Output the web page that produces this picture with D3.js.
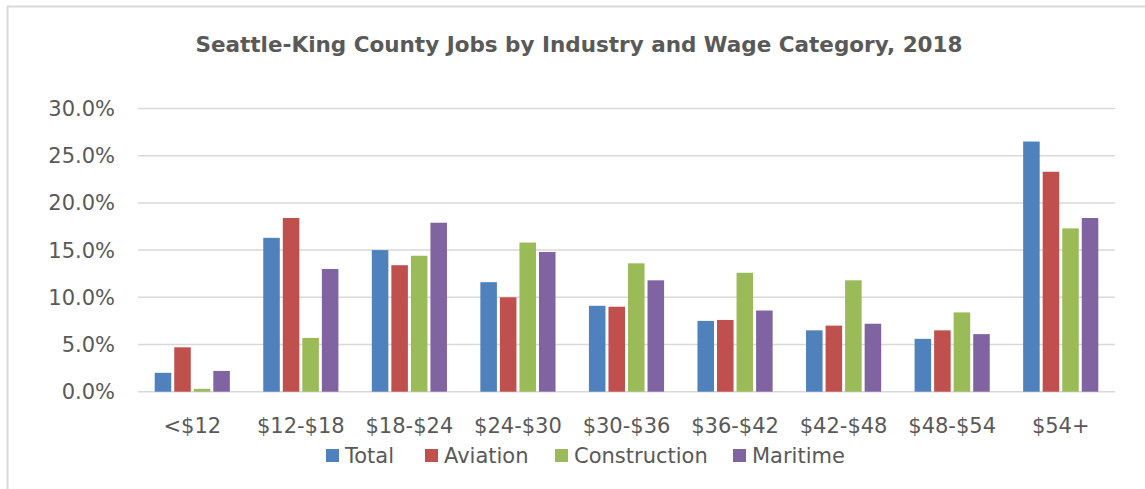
<!DOCTYPE html>
<html lang="en">
<head>
    <meta charset="UTF-8">
    <title>Seattle-King County Jobs by Industry and Wage Category, 2018</title>
    <style>
        body { margin: 0; background: #fff; }
        text { font-family: "DejaVu Sans", Verdana, sans-serif; fill: #595959; }
    </style>
</head>
<body>
    <svg id="chart" width="1145" height="489"></svg>
    <script src="https://d3js.org/d3.v7.min.js"></script>
    <script>
        var categories = ["<$12", "$12-$18", "$18-$24", "$24-$30", "$30-$36", "$36-$42", "$42-$48", "$48-$54", "$54+"];
        var seriesNames = ["Total", "Aviation", "Construction", "Maritime"];
        var total        = [2.0, 16.3, 15.0, 11.6, 9.1, 7.5, 6.5, 5.6, 26.5];
        var aviation     = [4.7, 18.4, 13.4, 10.0, 9.0, 7.6, 7.0, 6.5, 23.3];
        var construction = [0.3, 5.7, 14.4, 15.8, 13.6, 12.6, 11.8, 8.4, 17.3];
        var maritime     = [2.2, 13.0, 17.9, 14.8, 11.8, 8.6, 7.2, 6.1, 18.4];
        var yTicks = [0, 5, 10, 15, 20, 25, 30];
        var colors = ["#4F81BD", "#C0504D", "#9BBB59", "#8064A2"];

        var seriesValues = [total, aviation, construction, maritime];

        var svg = d3.select("#chart");

        // chart frame (only top and left edges visible)
        svg.append("line").attr("x1", 7).attr("x2", 1145).attr("y1", 6.5).attr("y2", 6.5)
            .attr("stroke", "#D9D9D9").attr("stroke-width", 2);
        svg.append("line").attr("x1", 7.5).attr("x2", 7.5).attr("y1", 6).attr("y2", 489)
            .attr("stroke", "#D9D9D9").attr("stroke-width", 2);

        var plotLeft = 138, plotRight = 1115, plotTop = 108.5, plotBottom = 391.7;

        var x0 = d3.scaleBand()
            .domain(categories)
            .range([plotLeft, plotRight])
            .paddingInner(0.28)
            .paddingOuter(0.14);

        var x1 = d3.scaleBand()
            .domain(seriesNames)
            .range([0, x0.bandwidth()]);

        var y = d3.scaleLinear()
            .domain([0, 30])
            .range([plotBottom, plotTop]);

        // gridlines
        svg.append("g").selectAll("line")
            .data(yTicks)
            .enter().append("line")
            .attr("x1", plotLeft).attr("x2", plotRight)
            .attr("y1", function(d) { return y(d); })
            .attr("y2", function(d) { return y(d); })
            .attr("stroke", "#D9D9D9")
            .attr("stroke-width", 1.5);

        // y tick labels
        svg.append("g").selectAll("text")
            .data(yTicks)
            .enter().append("text")
            .attr("x", 115)
            .attr("y", function(d) { return y(d); })
            .attr("dy", "0.36em")
            .attr("text-anchor", "end")
            .style("font-size", "21px")
            .text(function(d) { return d.toFixed(1) + "%"; });

        // bars
        var groups = svg.append("g").selectAll("g")
            .data(categories)
            .enter().append("g")
            .attr("transform", function(d) { return "translate(" + x0(d) + ",0)"; });

        groups.selectAll("rect")
            .data(function(c, i) {
                return seriesNames.map(function(s, j) { return { key: s, value: seriesValues[j][i], color: colors[j] }; });
            })
            .enter().append("rect")
            .attr("x", function(d) { return x1(d.key) + 1.5; })
            .attr("width", x1.bandwidth() - 3)
            .attr("y", function(d) { return y(d.value); })
            .attr("height", function(d) { return y(0) - y(d.value); })
            .attr("fill", function(d) { return d.color; });

        // category labels
        svg.append("g").selectAll("text")
            .data(categories)
            .enter().append("text")
            .attr("x", function(d) { return x0(d) + x0.bandwidth() / 2; })
            .attr("y", 433)
            .attr("text-anchor", "middle")
            .style("font-size", "21px")
            .text(function(d) { return d; });

        // title
        svg.append("text")
            .attr("x", 579)
            .attr("y", 52)
            .attr("text-anchor", "middle")
            .style("font-size", "21.5px")
            .style("font-weight", "bold")
            .text("Seattle-King County Jobs by Industry and Wage Category, 2018");

        // legend
        var legendX = [326, 425, 555, 733];
        var legend = svg.append("g").selectAll("g")
            .data(seriesNames)
            .enter().append("g")
            .attr("transform", function(d, i) { return "translate(" + legendX[i] + ",449)"; });
        legend.append("rect")
            .attr("width", 13).attr("height", 13)
            .attr("fill", function(d, i) { return colors[i]; });
        legend.append("text")
            .attr("x", 19)
            .attr("y", 14)
            .style("font-size", "21px")
            .text(function(d) { return d; });
    </script>
</body>
</html>
